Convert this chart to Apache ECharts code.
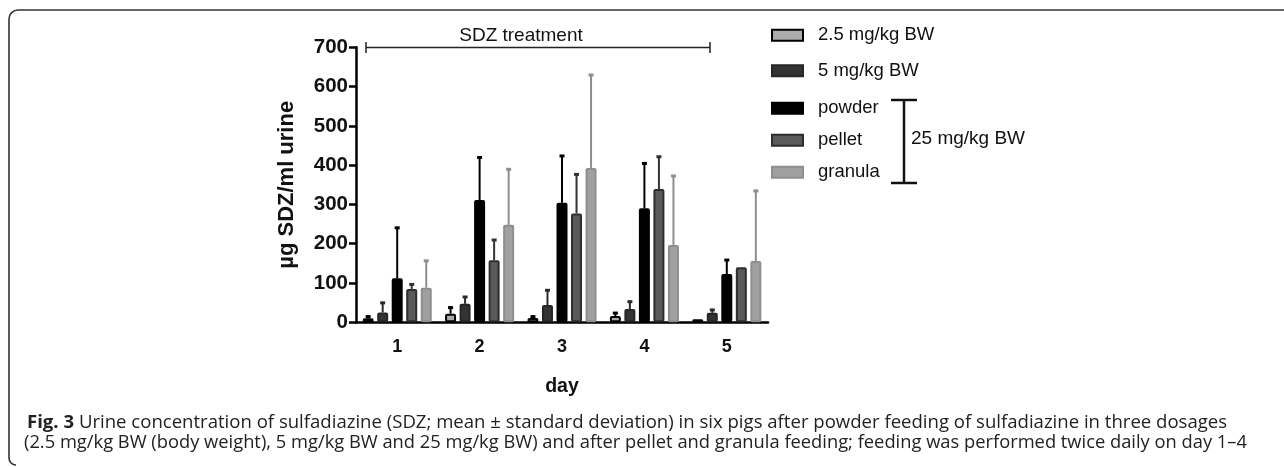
<!DOCTYPE html>
<html>
<head>
<meta charset="utf-8">
<script src="https://cdn.jsdelivr.net/npm/echarts@6/dist/echarts.min.js"></script>
<style>
html,body{margin:0;padding:0;background:#fff;}
#c{width:1284px;height:467px;}
</style>
</head>
<body>
<div id="c"></div>
<script>
// ---- data ----
const days = ['1', '2', '3', '4', '5'];
const seriesNames = ['2.5 mg/kg BW', '5 mg/kg BW', 'powder', 'pellet', 'granula'];
const mean25 = [10, 22, 11, 16, 8];
const mean5 = [25, 47, 44, 34, 24];
const meanPowder = [112, 311, 304, 290, 123];
const meanPellet = [85, 158, 277, 339, 140];
const meanGranula = [88, 248, 393, 197, 156];
const sd25 = [7, 18, 6, 10, 0];
const sd5 = [27, 20, 40, 21, 10];
const sdPowder = [131, 111, 122, 117, 38];
const sdPellet = [14, 54, 102, 85, 0];
const sdGranula = [71, 144, 239, 178, 181];
const yTicks = [0, 100, 200, 300, 400, 500, 600, 700];
const captionLine1Bold = 'Fig. 3';
const captionLine1 = ' Urine concentration of sulfadiazine (SDZ; mean ± standard deviation) in six pigs after powder feeding of sulfadiazine in three dosages';
const captionLine2 = '(2.5 mg/kg BW (body weight), 5 mg/kg BW and 25 mg/kg BW) and after pellet and granula feeding; feeding was performed twice daily on day 1–4';

const means = [mean25, mean5, meanPowder, meanPellet, meanGranula];
const sds = [sd25, sd5, sdPowder, sdPellet, sdGranula];

// ---- styles ----
const fills = ['#acacac', '#333333', '#000000', '#5a5a5a', '#a0a0a0'];
const borders = ['#000000', '#262626', '#000000', '#2e2e2e', '#8e8e8e'];
const errColors = ['#000000', '#2a2a2a', '#000000', '#333333', '#8e8e8e'];
const BAR_W = 11;
const BAR_GAP = 0.32;
const PITCH = BAR_W * (1 + BAR_GAP);
const AX = 'Liberation Sans, Arial, sans-serif';

// fit caption font sizes to the reference line widths
const cv = document.createElement('canvas').getContext('2d');
cv.font = 'bold 16px Open Sans';
let w16 = cv.measureText(captionLine1Bold).width;
cv.font = '16px Open Sans';
w16 += cv.measureText(captionLine1).width;
const capSize = Math.min(20, 16 * 1201 / w16);
const w16b = cv.measureText(captionLine2).width;
const capSize2 = Math.min(20, 16 * 1224 / w16b);

const series = [];
seriesNames.forEach((n, i) => {
  series.push({
    name: n,
    type: 'bar',
    data: means[i],
    barWidth: BAR_W,
    barGap: (BAR_GAP * 100) + '%',
    itemStyle: {color: fills[i], borderColor: borders[i], borderWidth: 2, borderRadius: 1},
    z: 2,
    silent: true
  });
});
seriesNames.forEach((n, i) => {
  series.push({
    name: n + ' err',
    type: 'custom',
    z: 3,
    silent: true,
    data: means[i].map((m, k) => [k, m, sds[i][k]]),
    renderItem: function (params, api) {
      const sd = api.value(2);
      if (!sd) return null;
      const cx = api.coord([api.value(0), 0])[0] + (i - 2) * PITCH;
      const y0 = api.coord([api.value(0), api.value(1)])[1];
      const y1 = api.coord([api.value(0), api.value(1) + sd])[1];
      return {
        type: 'group',
        children: [
          {type: 'line', shape: {x1: cx, y1: y0, x2: cx, y2: y1}, style: {stroke: errColors[i], lineWidth: 2}},
          {type: 'line', shape: {x1: cx - 2.5, y1: y1 + 1, x2: cx + 2.5, y2: y1 + 1}, style: {stroke: errColors[i], lineWidth: 3}}
        ]
      };
    }
  });
});

const legendText = {fontFamily: AX, fontSize: 18.5, color: '#111', padding: [0, 0, 0, 10]};
const chart = echarts.init(document.getElementById('c'), null, {renderer: 'canvas'});
chart.setOption({
  animation: false,
  backgroundColor: '#ffffff',
  grid: {left: 356, right: 516, top: 47.3, bottom: 144.7, containLabel: false},
  legend: [{
    data: seriesNames.slice(0, 2),
    orient: 'vertical',
    left: 766, top: 20.75,
    icon: 'rect',
    itemWidth: 31, itemHeight: 11,
    itemGap: 16.5,
    selectedMode: false,
    textStyle: legendText
  }, {
    data: seriesNames.slice(2),
    orient: 'vertical',
    left: 766, top: 93.75,
    icon: 'rect',
    itemWidth: 31, itemHeight: 11,
    itemGap: 13,
    selectedMode: false,
    textStyle: legendText
  }],
  xAxis: {
    type: 'category',
    data: days,
    name: 'day',
    nameLocation: 'middle',
    nameGap: 54,
    nameTextStyle: {fontFamily: AX, fontSize: 19.5, fontWeight: 'bold', color: '#111', verticalAlign: 'top'},
    axisLine: {lineStyle: {color: '#000', width: 2.5}},
    axisTick: {alignWithLabel: true, length: 7, lineStyle: {color: '#000', width: 2.5}},
    axisLabel: {fontFamily: AX, fontSize: 18, fontWeight: 'bold', color: '#111', margin: 16}
  },
  yAxis: {
    type: 'value',
    min: yTicks[0],
    max: yTicks[yTicks.length - 1],
    interval: yTicks[1] - yTicks[0],
    name: 'µg SDZ/ml urine',
    nameLocation: 'middle',
    nameGap: 58,
    nameTextStyle: {fontFamily: AX, fontSize: 22, fontWeight: 'bold', color: '#111'},
    axisLine: {show: true, lineStyle: {color: '#000', width: 2.5}},
    axisTick: {show: true, length: 7, lineStyle: {color: '#000', width: 2.5}},
    axisLabel: {fontFamily: AX, fontSize: 20.5, fontWeight: 'bold', color: '#111', margin: 8},
    splitLine: {show: false}
  },
  series: series,
  graphic: [
    // frame
    {type: 'line', silent: true, shape: {x1: 18, y1: 10, x2: 1290, y2: 10}, style: {stroke: '#333', lineWidth: 1.6}},
    {type: 'line', silent: true, shape: {x1: 9, y1: 19, x2: 9, y2: 458}, style: {stroke: '#333', lineWidth: 1.6}},
    {type: 'arc', silent: true, shape: {cx: 18, cy: 19, r: 9, startAngle: Math.PI, endAngle: Math.PI * 1.5, clockwise: true},
     style: {stroke: '#333', lineWidth: 1.6, fill: null}},
    {type: 'arc', silent: true, shape: {cx: 16, cy: 458, r: 7, startAngle: Math.PI * 0.5, endAngle: Math.PI, clockwise: true},
     style: {stroke: '#333', lineWidth: 1.6, fill: null}},
    // SDZ treatment bracket
    {type: 'line', silent: true, shape: {x1: 366, y1: 47.5, x2: 710, y2: 47.5}, style: {stroke: '#222', lineWidth: 1.5}},
    {type: 'line', silent: true, shape: {x1: 366, y1: 42, x2: 366, y2: 53}, style: {stroke: '#222', lineWidth: 1.5}},
    {type: 'line', silent: true, shape: {x1: 710, y1: 42, x2: 710, y2: 53}, style: {stroke: '#222', lineWidth: 1.5}},
    {type: 'text', silent: true, style: {x: 521, y: 36, text: 'SDZ treatment', font: '19px ' + AX, fill: '#111',
     textAlign: 'center', textVerticalAlign: 'middle'}},
    // 25 mg/kg BW bracket
    {type: 'line', silent: true, shape: {x1: 904, y1: 100, x2: 904, y2: 183}, style: {stroke: '#111', lineWidth: 2.5}},
    {type: 'line', silent: true, shape: {x1: 891, y1: 100, x2: 917, y2: 100}, style: {stroke: '#111', lineWidth: 2.5}},
    {type: 'line', silent: true, shape: {x1: 891, y1: 183, x2: 917, y2: 183}, style: {stroke: '#111', lineWidth: 2.5}},
    {type: 'text', silent: true, style: {x: 911, y: 139, text: '25 mg/kg BW', font: '19px ' + AX, fill: '#111',
     textAlign: 'left', textVerticalAlign: 'middle'}},
    // caption
    {type: 'text', silent: true, style: {x: 27, y: 423,
      text: '{b|' + captionLine1Bold + '}' + captionLine1,
      font: capSize + 'px Open Sans', fill: '#222', textVerticalAlign: 'middle',
      rich: {b: {fontWeight: 'bold', fontFamily: 'Open Sans', fontSize: capSize, fill: '#222'}}
    }},
    {type: 'text', silent: true, style: {x: 24, y: 443,
      text: captionLine2,
      font: capSize2 + 'px Open Sans', fill: '#222', textVerticalAlign: 'middle'
    }}
  ]
});
</script>
</body>
</html>
